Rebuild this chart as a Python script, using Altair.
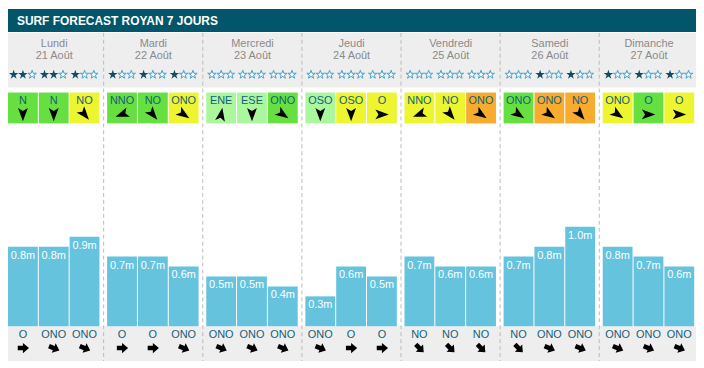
import altair as alt
import pandas as pd

# ---------------- data ----------------
days = ["Lundi", "Mardi", "Mercredi", "Jeudi", "Vendredi", "Samedi", "Dimanche"]
dates = ["21 Août", "22 Août", "23 Août", "24 Août", "25 Août", "26 Août", "27 Août"]

stars_filled = [2, 2, 1, 1, 1, 1, 0, 0, 0, 0, 0, 0, 0, 0, 0, 0, 1, 1, 1, 1, 1]

wind_dir = ["N", "N", "NO", "NNO", "NO", "ONO", "ENE", "ESE", "ONO",
            "OSO", "OSO", "O", "NNO", "NO", "ONO", "ONO", "ONO", "NO",
            "ONO", "O", "O"]
# 0 = faible (vert clair), 1 = modéré (vert), 2 = fort (jaune), 3 = très fort (orange)
wind_level = [1, 1, 2, 1, 1, 2, 0, 0, 1, 0, 2, 2, 2, 2, 3, 1, 3, 3, 2, 1, 2]
# direction in which each wind arrow points (degrees, clockwise from up)
wind_arrow = [180, 180, 140, 250, 140, 125, 10, 180, 125,
              180, 180, 90, 250, 140, 125, 125, 125, 140,
              125, 90, 90]

wave_m = [0.8, 0.8, 0.9, 0.7, 0.7, 0.6, 0.5, 0.5, 0.4, 0.3, 0.6, 0.5,
          0.7, 0.6, 0.6, 0.7, 0.8, 1.0, 0.8, 0.7, 0.6]

swell_dir = ["O", "ONO", "ONO", "O", "O", "ONO", "ONO", "ONO", "ONO",
             "ONO", "O", "O", "NO", "NO", "NO", "NO", "ONO", "ONO",
             "ONO", "ONO", "ONO"]

title = "SURF FORECAST ROYAN 7 JOURS"

# ---------------- layout ----------------
W, H = 692, 356
DAY = 99.7      # px per day column
SLOT = 31       # px per 3-hour slot
BARW = 30       # bar width px
BASE = 319      # px of the 0 m line
PXM = 100       # px per metre
FONT = "Liberation Sans"

going = {"N": 180, "NNO": 157.5, "NO": 135, "ONO": 112.5, "O": 90,
         "OSO": 67.5, "ENE": 247.5, "ESE": 292.5}

rows = []
for i in range(21):
    d, s = divmod(i, 3)
    x0 = d + s * SLOT / DAY
    rows.append(dict(
        d=d, s=s, x0=x0, x1=x0 + BARW / DAY, xc=x0 + BARW / 2 / DAY,
        wind=wind_dir[i], level=wind_level[i], wang=wind_arrow[i],
        wave=wave_m[i], lab=f"{wave_m[i]:.1f}m", zero=0.0,
        swell=swell_dir[i], sang=going[swell_dir[i]],
    ))
slots = pd.DataFrame(rows)

star_rows = []
for i in range(21):
    for k in range(3):
        star_rows.append(dict(xs=rows[i]["xc"] + (k - 1) * 9.3 / DAY,
                              full=k < stars_filled[i]))
stars = pd.DataFrame(star_rows)

dayf = pd.DataFrame(dict(d=range(7), name=days, date=dates))
dayf["xc"] = dayf["d"] + 46.5 / DAY
seps = pd.DataFrame(dict(xs=[d - 3.5 / DAY for d in range(1, 7)]))
one = pd.DataFrame(dict(k=[0]))

xs = alt.Scale(domain=[0, W / DAY], nice=False, zero=False)
ys = alt.Scale(domain=[-(H - BASE) / PXM, BASE / PXM], nice=False, zero=False)


def X(f):
    return alt.X(f"{f}:Q", scale=xs, axis=None)


STAR = ("M0,-1L0.2245,-0.309L0.951,-0.309L0.363,0.118L0.588,0.809L0,0.382"
        "L-0.588,0.809L-0.363,0.118L-0.951,-0.309L-0.2245,-0.309Z")
NAV = "M0,-1L0.72,0.95L0,0.5L-0.72,0.95Z"
FAT = "M0,-1L0.85,0L0.38,0L0.38,0.85L-0.38,0.85L-0.38,0L-0.85,0Z"

title_bar = alt.Chart(one).mark_rect(color="#02566b").encode(
    x=alt.value(0), x2=alt.value(W), y=alt.value(0), y2=alt.value(23))
title_txt = alt.Chart(one).mark_text(
    text=title, color="white", font=FONT, fontSize=12, fontWeight="bold",
    align="left", baseline="middle").encode(x=alt.value(9), y=alt.value(12))
head_bg = alt.Chart(one).mark_rect(color="#eeeeee").encode(
    x=alt.value(0), x2=alt.value(W), y=alt.value(24), y2=alt.value(79))
foot_bg = alt.Chart(one).mark_rect(color="#eeeeee").encode(
    x=alt.value(0), x2=alt.value(W), y=alt.value(BASE), y2=alt.value(354))
sep = alt.Chart(seps).mark_rule(color="#bbbbbb", strokeDash=[4, 3], strokeWidth=1).encode(
    x=X("xs"), y=alt.value(24), y2=alt.value(354))
day_name = alt.Chart(dayf).mark_text(font=FONT, fontSize=11, color="#8a8a8a",
                                     baseline="middle").encode(
    x=X("xc"), y=alt.value(35.5), text="name:N")
day_date = alt.Chart(dayf).mark_text(font=FONT, fontSize=11, color="#8a8a8a",
                                     baseline="middle").encode(
    x=X("xc"), y=alt.value(47.5), text="date:N")
star_full = alt.Chart(stars).transform_filter("datum.full").mark_point(
    shape=STAR, filled=True, color="#0f4d66", size=100, opacity=1).encode(
    x=X("xs"), y=alt.value(66))
star_empty = alt.Chart(stars).transform_filter("!datum.full").mark_point(
    shape=STAR, filled=True, fill="white", stroke="#4a9fc8", strokeWidth=1,
    size=80, opacity=1).encode(x=X("xs"), y=alt.value(66))

wind_box = alt.Chart(slots).mark_rect().encode(
    x=X("x0"), x2="x1", y=alt.value(84), y2=alt.value(115),
    color=alt.Color("level:O", legend=None,
                    scale=alt.Scale(domain=[0, 1, 2, 3],
                                    range=["#aaf79e", "#66e041", "#ecf52f", "#f7ab2f"])))
wind_lab = alt.Chart(slots).mark_text(font=FONT, fontSize=11, color="#155e78",
                                      baseline="middle").encode(
    x=X("xc"), y=alt.value(92.5), text="wind:N")
wind_arr = alt.Chart(slots).mark_point(shape=NAV, filled=True, color="#000000",
                                       size=190, opacity=1).encode(
    x=X("xc"), y=alt.value(106), angle=alt.Angle("wang:Q", scale=None))

bars = alt.Chart(slots).mark_rect(color="#65c3de").encode(
    x=X("x0"), x2="x1", y=alt.Y("wave:Q", scale=ys, axis=None), y2="zero:Q")
bar_lab = alt.Chart(slots).mark_text(font=FONT, fontSize=11, color="white",
                                     baseline="middle", dy=9).encode(
    x=X("xc"), y=alt.Y("wave:Q", scale=ys, axis=None), text="lab:N")

swell_lab = alt.Chart(slots).mark_text(font=FONT, fontSize=11, color="#155e78",
                                       baseline="middle").encode(
    x=X("xc"), y=alt.value(327.5), text="swell:N")
swell_arr = alt.Chart(slots).mark_point(shape=FAT, filled=True, color="#000000",
                                        size=150, opacity=1).encode(
    x=X("xc"), y=alt.value(341), angle=alt.Angle("sang:Q", scale=None))

chart = alt.layer(
    title_bar, title_txt, head_bg, foot_bg, sep, day_name, day_date,
    star_full, star_empty, wind_box, wind_lab, wind_arr, bars, bar_lab,
    swell_lab, swell_arr,
).properties(
    width=W, height=H, padding=0, autosize=alt.AutoSizeParams(type="none"),
    background="white",
).configure_view(stroke=None)

chart.save("out.html", embed_options={"renderer": "svg", "actions": False})
